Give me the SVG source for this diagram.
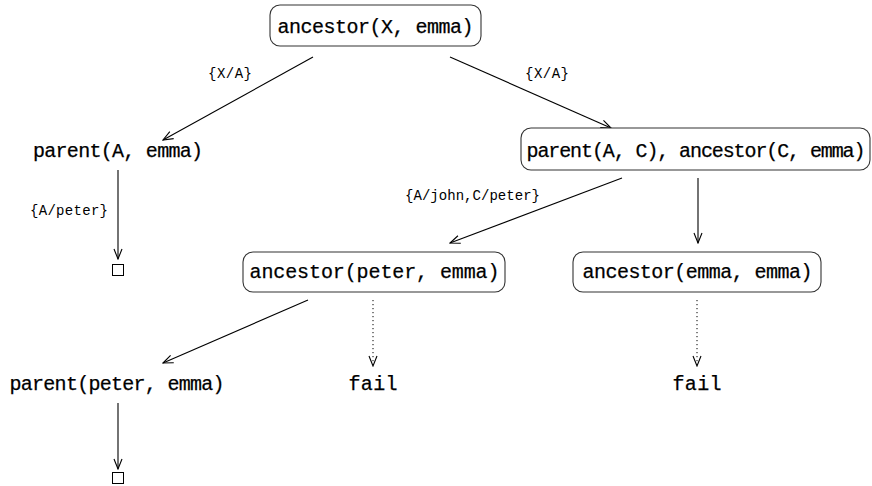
<svg xmlns="http://www.w3.org/2000/svg" width="872" height="486" viewBox="0 0 872 486">
<style>
.n{font-family:"Liberation Mono","DejaVu Sans Mono",monospace;font-size:20px;fill:#000;stroke:#000;stroke-width:0.25;text-anchor:middle}
.l{font-family:"Liberation Mono","DejaVu Sans Mono",monospace;font-size:14px;fill:#000}
.box{fill:#fff;stroke:#333;stroke-width:1.1}
.e{stroke:#000;stroke-width:1.1;fill:none;marker-end:url(#ah)}
.d{stroke:#000;stroke-width:1;fill:none;stroke-dasharray:1.2 2.8;marker-end:url(#ah)}
.sq{fill:#fff;stroke:#000;stroke-width:1}
</style>
<defs>
<marker id="ah" viewBox="-11 -6 12 12" markerWidth="12" markerHeight="12" refX="0" refY="0" orient="auto" markerUnits="userSpaceOnUse">
<path d="M-10,-4 L0,0 L-10,4" fill="none" stroke="#000" stroke-width="1.1"/>
</marker>
</defs>
<g id="connectors">
<line class="e" x1="313" y1="57" x2="163" y2="140"/>
<line class="e" x1="450" y1="57" x2="611" y2="128"/>
<line class="e" x1="118" y1="170" x2="118" y2="259"/>
<line class="e" x1="622" y1="178" x2="450" y2="243"/>
<line class="e" x1="698" y1="178" x2="698" y2="243"/>
<line class="e" x1="308" y1="300" x2="163" y2="363"/>
<line class="d" x1="373" y1="300" x2="373" y2="366"/>
<line class="d" x1="697" y1="300" x2="697" y2="366"/>
<line class="e" x1="118" y1="403" x2="118" y2="469"/>
<text class="l" x="208" y="78" textLength="44">{X/A}</text>
<text class="l" x="525" y="78" textLength="44">{X/A}</text>
<text class="l" x="30" y="215" textLength="78">{A/peter}</text>
<text class="l" x="405" y="200" textLength="135">{A/john,C/peter}</text>
</g>
<g id="n_root">
<rect class="box" x="270" y="5" width="211" height="41" rx="10"/>
<text class="n" x="375.5" y="33" textLength="196">ancestor(X, emma)</text>
</g>
<g id="n_parentA">
<text class="n" x="118" y="157" textLength="170">parent(A, emma)</text>
</g>
<g id="n_empty1">
<rect class="sq" x="112.5" y="264.5" width="11" height="11"/>
</g>
<g id="n_conj">
<rect class="box" x="521" y="128" width="349" height="42" rx="10"/>
<text class="n" x="696" y="157" textLength="339">parent(A, C), ancestor(C, emma)</text>
</g>
<g id="n_ancPeter">
<rect class="box" x="243" y="252" width="262" height="40" rx="10"/>
<text class="n" x="374.5" y="278" textLength="250">ancestor(peter, emma)</text>
</g>
<g id="n_ancEmma">
<rect class="box" x="573" y="252" width="248" height="40" rx="10"/>
<text class="n" x="697.5" y="278" textLength="230">ancestor(emma, emma)</text>
</g>
<g id="n_parentPeter">
<text class="n" x="117" y="390" textLength="215">parent(peter, emma)</text>
</g>
<g id="n_fail1">
<text class="n" x="373" y="390" textLength="49">fail</text>
</g>
<g id="n_fail2">
<text class="n" x="697" y="390" textLength="49">fail</text>
</g>
<g id="n_empty2">
<rect class="sq" x="112.5" y="472.5" width="11" height="11"/>
</g>
</svg>
